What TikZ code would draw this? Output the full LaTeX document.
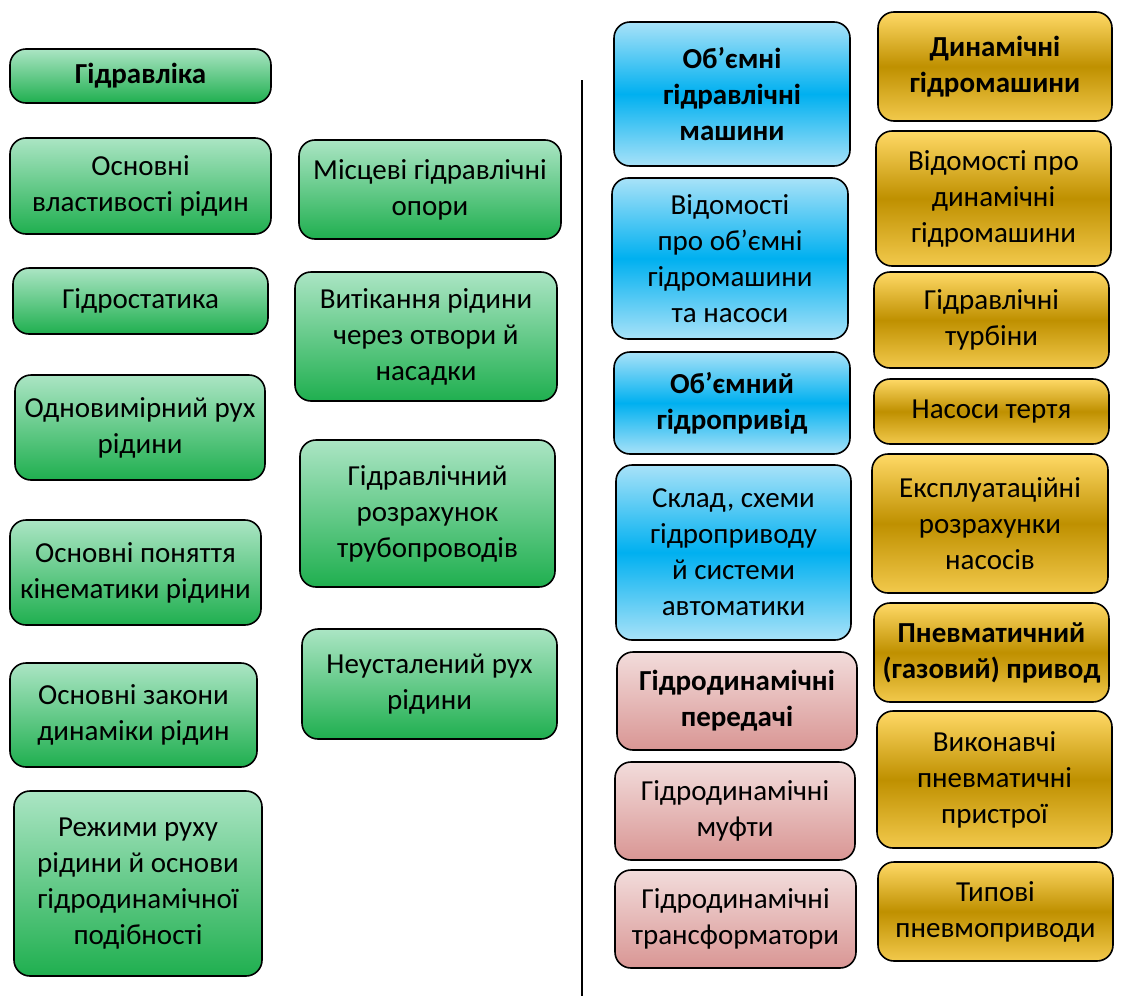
\documentclass[tikz,border=0pt]{standalone}
\usepackage{fontspec}
\setmainfont{Carlito}
\usetikzlibrary{shapes}

\definecolor{grtop}{HTML}{ABE5C4}
\definecolor{grbot}{HTML}{1FAF4F}
\definecolor{bltop}{HTML}{A8E2F8}
\definecolor{blmid}{HTML}{00B0F0}
\definecolor{gdtop}{HTML}{FFD966}
\definecolor{gdmid}{HTML}{BF9000}
\definecolor{gdbot}{HTML}{F2C94C}
\definecolor{rdtop}{HTML}{F2DCDB}
\definecolor{rdbot}{HTML}{D99694}

\tikzset{
	topic/.style = {
		rectangle,
		rounded corners=16pt,
		draw=black,
		line width=1.6pt,
		align=center,
		inner sep=1pt,
		font=\fontsize{29}{36}\selectfont
	},
	topic_head/.style = {
		topic,
		font=\fontsize{29}{36}\selectfont\bfseries
	},
	hydro/.style = {
		top color=grtop,
		bottom color=grbot
	},
	volum/.style = {
		top color=bltop,
		bottom color=bltop,
		middle color=blmid
	},
	transm/.style = {
		top color=rdtop,
		bottom color=rdbot
	},
	dynam/.style = {
		top color=gdtop,
		bottom color=gdbot,
		middle color=gdmid
	},
}

\begin{document}
\begin{tikzpicture}[x=1pt,y=-1pt]
\useasboundingbox (0,0) rectangle (1124,996);

% hydraulics, first column
\node [topic_head, hydro, minimum width=261pt, minimum height=54pt] (gidr) at (140.5,76) {Гідравліка};
\node [topic, hydro, minimum width=261pt, minimum height=96pt] (vlast) at (140.5,186) {Основні\\властивості рідин};
\node [topic, hydro, minimum width=255pt, minimum height=66pt] (stat) at (140.5,301) {Гідростатика};
\node [topic, hydro, minimum width=250pt, minimum height=105pt] (odnov) at (140,427.5) {Одновимірний рух\\рідини};
\node [topic, hydro, minimum width=251pt, minimum height=105pt] (kinem) at (135.5,572.5) {Основні поняття\\кінематики рідини};
\node [topic, hydro, minimum width=247pt, minimum height=104pt] (zakon) at (133.5,715) {Основні закони\\динаміки рідин};
\node [topic, hydro, minimum width=248pt, minimum height=185pt] (rezhym) at (138,883.5) {Режими руху\\рідини й основи\\гідродинамічної\\подібності};

% hydraulics, second column
\node [topic, hydro, minimum width=262pt, minimum height=99pt] (opory) at (430,189.5) {Місцеві гідравлічні\\опори};
\node [topic, hydro, minimum width=262pt, minimum height=129pt] (vytik) at (426,336.5) {Витікання рідини\\через отвори й\\насадки};
\node [topic, hydro, minimum width=255pt, minimum height=147pt] (truby) at (427.5,513.5) {Гідравлічний\\розрахунок\\трубопроводів};
\node [topic, hydro, minimum width=255pt, minimum height=110pt] (neust) at (429.5,684) {Неусталений рух\\рідини};

% separator
\coordinate (sep_top) at (582,80);
\coordinate (sep_bot) at (582,996);
\draw [line width=2.6pt] (sep_top) -- (sep_bot);

% volumetric machines and drive
\node [topic_head, volum, minimum width=236pt, minimum height=144pt] (obmash) at (732,94) {Об’ємні\\гідравлічні\\машини};
\node [topic, volum, minimum width=236pt, minimum height=161pt] (vidobm) at (730,258.5) {Відомості\\про об’ємні\\гідромашини\\та насоси};
\node [topic_head, volum, minimum width=236pt, minimum height=102pt] (obpryv) at (732,403) {Об’ємний\\гідропривід};
\node [topic, volum, minimum width=235pt, minimum height=175pt] (sklad) at (733.5,552.5) {Склад, схеми\\гідроприводу\\й системи\\автоматики};

% hydrodynamic transmissions
\node [topic_head, transm, minimum width=240pt, minimum height=98pt] (peredachi) at (737,701) {Гідродинамічні\\передачі};
\node [topic, transm, minimum width=240pt, minimum height=98pt] (mufty) at (735,811) {Гідродинамічні\\муфти};
\node [topic, transm, minimum width=241pt, minimum height=98pt] (transf) at (735.5,919) {Гідродинамічні\\трансформатори};

% dynamic machines and pneumatics
\node [topic_head, dynam, minimum width=234pt, minimum height=109pt] (dynmash) at (995,66.5) {Динамічні\\гідромашини};
\node [topic, dynam, minimum width=235pt, minimum height=135pt] (viddyn) at (993.5,198.5) {Відомості про\\динамічні\\гідромашини};
\node [topic, dynam, minimum width=235pt, minimum height=96pt] (turb) at (991.5,320) {Гідравлічні\\турбіни};
\node [topic, dynam, minimum width=235pt, minimum height=65pt] (tertya) at (991.5,411.5) {Насоси тертя};
\node [topic, dynam, minimum width=236pt, minimum height=139pt] (ekspl) at (990,523.5) {Експлуатаційні\\розрахунки\\насосів};
\node [topic_head, dynam, minimum width=235pt, minimum height=99pt] (pnevm) at (991.5,652.5) {Пневматичний\\(газовий) привод};
\node [topic, dynam, minimum width=235pt, minimum height=137pt] (vykon) at (994.5,779.5) {Виконавчі\\пневматичні\\пристрої};
\node [topic, dynam, minimum width=235pt, minimum height=99pt] (typovi) at (995.5,911.5) {Типові\\пневмоприводи};
\end{tikzpicture}
\end{document}
